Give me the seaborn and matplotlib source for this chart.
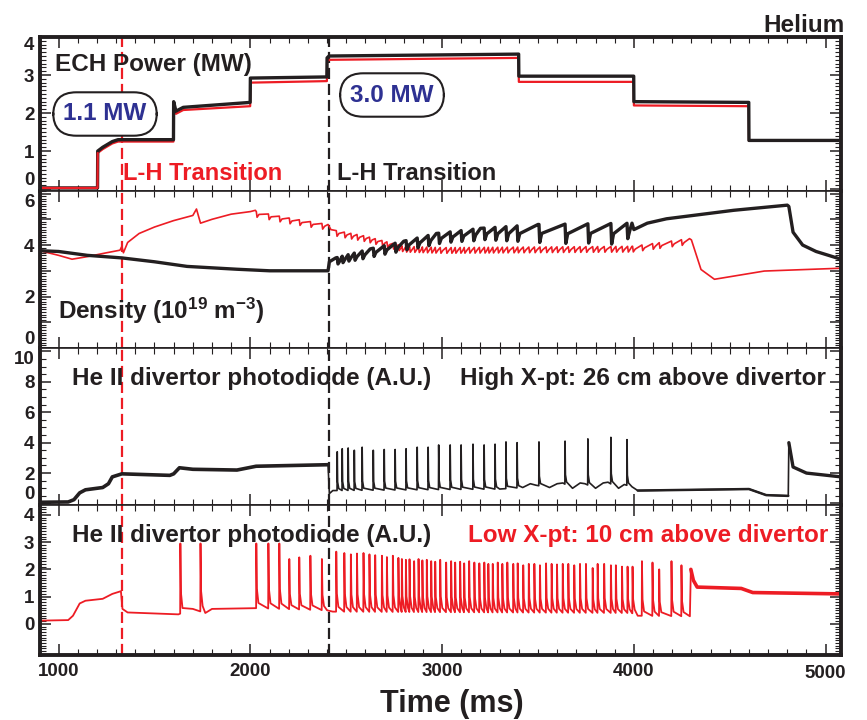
import numpy as np
import pandas as pd
import matplotlib
matplotlib.use("Agg")
import matplotlib.pyplot as plt
import seaborn as sns
from matplotlib.ticker import MultipleLocator, FuncFormatter

# ---------------- data ----------------
# ECH power (MW): step traces, time in ms
power_t = [903, 1203, 1204, 1230, 1280, 1310, 1599, 1600, 1612, 1650, 1999, 2000,
           2399, 2400, 2410, 3399, 3400, 3999, 4000, 4599, 4600, 5080]
power_high_v = [0.03, 0.03, 1.0, 1.1, 1.25, 1.3, 1.3, 2.3, 2.05, 2.15, 2.28, 2.92,
                2.95, 3.45, 3.5, 3.55, 2.97, 2.97, 2.3, 2.28, 1.28, 1.28]
power_low_v = [0.03, 0.03, 0.95, 1.05, 1.2, 1.25, 1.25, 2.25, 1.98, 2.08, 2.18, 2.8,
               2.84, 3.35, 3.4, 3.45, 2.82, 2.82, 2.2, 2.18, 1.27, 1.27]

# Density (1e19 m^-3)
dens_high_t = [903, 1000, 1150, 1330, 1500, 1670, 1930, 2100, 2405, 2412, 2445,
               4000, 4070, 4170, 4520, 4800, 4808, 4830, 4880, 4950, 5080]
dens_high_v = [3.78, 3.75, 3.6, 3.5, 3.35, 3.17, 3.06, 3.0, 3.0, 3.35, 3.45,
               4.6, 4.85, 5.02, 5.35, 5.55, 5.5, 4.5, 4.0, 3.75, 3.45]
dens_high_env_t = [2445, 2625, 2800, 2970, 3200, 3500, 3990]
dens_high_env_v = [3.5, 3.85, 4.15, 4.45, 4.65, 4.8, 4.85]

dens_low_t = [903, 1000, 1070, 1150, 1250, 1320, 1330, 1338, 1360, 1420, 1500,
              1600, 1700, 1719, 1740, 1800, 1900, 2000, 2026,
              4300, 4350, 4420, 4680, 5080]
dens_low_v = [3.78, 3.6, 3.45, 3.55, 3.7, 3.8, 3.95, 3.7, 4.1, 4.45, 4.7,
              4.95, 5.15, 5.4, 4.85, 5.0, 5.2, 5.3, 5.35,
              4.2, 3.05, 2.67, 2.99, 3.1]
dens_low_env_t = [2031, 2200, 2405, 2420, 2600, 2800, 3000, 3990, 4290]
dens_low_env_v = [5.3, 5.05, 4.8, 4.6, 4.35, 3.95, 3.9, 3.95, 4.25]

# He II photodiode, high X-point (black)
pd_high_t = [903, 1050, 1080, 1110, 1140, 1230, 1260, 1280, 1330, 1580, 1600, 1630,
             1700, 1930, 2030, 2405, 2412, 2430, 3300, 3420, 3460, 3490, 3560,
             3600, 3630, 3680, 3720, 3745, 3800, 3840, 3865, 3920, 3950, 3990,
             4020, 4600, 4690, 4805, 4808, 4830, 4900, 5080]
pd_high_v = [0.08, 0.1, 0.25, 0.7, 0.9, 1.05, 1.3, 1.75, 1.95, 1.85, 1.95, 2.35,
             2.25, 2.2, 2.45, 2.55, 0.65, 0.85, 0.95, 1.05, 1.3, 1.2, 1.05,
             1.3, 1.35, 1.0, 1.35, 1.3, 1.0, 1.35, 1.4, 1.0, 1.25, 1.1,
             0.85, 0.95, 0.55, 0.5, 4.0, 2.4, 2.0, 1.75]
elm_high_t = [2453, 2479, 2510, 2542, 2583, 2641, 2698, 2755, 2812, 2870, 2927, 2982,
              3042, 3099, 3161, 3219, 3276, 3333, 3391, 3505, 3641, 3760, 3880, 3964]
elm_high_peak = [3.4, 3.6, 3.65, 3.5, 3.7, 3.5, 3.55, 3.55, 3.6, 3.7, 3.7, 3.85,
                 3.85, 3.85, 3.9, 3.85, 3.9, 4.05, 4.0, 4.05, 4.1, 4.25, 4.35, 4.2]
elm_high_drop = [0.25, 0.25, 0.25, 0.28, 0.3, 0.32, 0.33, 0.35, 0.35, 0.38, 0.4, 0.4,
                 0.4, 0.42, 0.45, 0.45, 0.5, 0.55, 0.6, 0.7, 0.75, 0.75, 0.8, 0.6]

# He II photodiode, low X-point (red)
pd_low_t = [903, 1050, 1075, 1110, 1140, 1230, 1280, 1325, 1333, 1360, 1625,
            1700, 1765, 1800, 2020, 2400, 2430, 3300, 3990, 4020, 4292, 4297,
            4310, 4330, 4560, 4620, 5080]
pd_low_v = [0.12, 0.14, 0.3, 0.75, 0.85, 0.92, 1.1, 1.2, 0.55, 0.42, 0.35,
            0.55, 0.4, 0.55, 0.58, 0.5, 0.45, 0.42, 0.4, 0.3, 0.28, 2.0,
            1.6, 1.35, 1.3, 1.15, 1.1]
elm_low_t = [1635, 1740, 2031, 2094, 2151, 2203, 2255, 2313, 2373,
             2448, 2490, 2524, 2556, 2590, 2621, 2651, 2686, 2712, 2743,
             2772, 2790, 2811, 2830, 2854, 2877, 2897, 2920, 2943, 2964,
             2990, 3021, 3047, 3068, 3094, 3115, 3141, 3168, 3194, 3220,
             3241, 3264, 3290, 3314, 3340,
             3371, 3394, 3423, 3452, 3481, 3510, 3542, 3571, 3599, 3629,
             3658, 3689, 3719, 3750, 3785, 3811, 3845, 3880, 3906, 3938,
             3967, 3993, 4042, 4097, 4132, 4196, 4248]
elm_low_peak = [2.95, 2.95, 2.95, 2.95, 2.95, 2.38, 2.44, 2.5, 2.38,
                2.65, 2.6, 2.55, 2.58, 2.6, 2.55, 2.52, 2.5, 2.45, 2.5,
                2.42, 2.38, 2.35, 2.37, 2.3, 2.38, 2.33, 2.35, 2.3, 2.28,
                2.35, 2.25, 2.3, 2.25, 2.28, 2.22, 2.3, 2.25, 2.22, 2.25,
                2.2, 2.2, 2.25, 2.2, 2.25,
                2.2, 2.22, 2.15, 2.2, 2.2, 2.15, 2.22, 2.2, 2.18, 2.2,
                2.2, 2.15, 2.2, 2.2, 2.05, 2.2, 2.2, 2.15, 2.15, 2.1,
                2.1, 2.1, 2.3, 2.25, 2.0, 2.3, 2.15]
dens_low_drop = 0.22

lh_low_t = 1330    # L-H transition, low X-point
lh_high_t = 2410   # L-H transition, high X-point
x_ticks = [1000, 2000, 3000, 4000, 5000]

RED = "#ED1C24"
BLK = "#231F20"
NAVY = "#2E3192"


# ---------------- trace builders (from the read values) ----------------
def merge(base_t, base_v, extra_t, extra_v, windows):
    keep = [(t, v) for t, v in zip(base_t, base_v)
            if not any(a <= t <= b for a, b in windows)]
    pts = keep + list(zip(extra_t, extra_v))
    pts.sort(key=lambda p: p[0])
    return np.array([p[0] for p in pts]), np.array([p[1] for p in pts])


def spiky(base_t, base_v, elm_t, elm_pk, f1=0.3, f2=0.08, d1=3, d2=10):
    et, ev, win = [], [], []
    for te, pk in zip(elm_t, elm_pk):
        b = np.interp(te, base_t, base_v)
        et += [te - 1, te, te + d1, te + d2]
        ev += [b, pk, b + f1 * (pk - b), b + f2 * (pk - b)]
        win.append((te - 1.5, te + d2 + 0.5))
    return merge(base_t, base_v, et, ev, win)


def sawtooth(env_t, env_v, elm_t, drops):
    et, ev, win = [], [], []
    for te, d in zip(elm_t, drops):
        e = np.interp(te, env_t, env_v)
        et += [te, te + 4, te + 14]
        ev += [e, e - d, e - 0.5 * d]
        win.append((te - 1, te + 15))
    return merge(env_t, env_v, et, ev, win)


# ---------------- figure ----------------
sns.set_theme(style="ticks")
plt.rcParams["font.family"] = ["Liberation Sans", "DejaVu Sans"]
plt.rcParams["mathtext.fontset"] = "custom"
plt.rcParams["mathtext.rm"] = "Liberation Sans:bold"
plt.rcParams["mathtext.bf"] = "Liberation Sans:bold"
plt.rcParams["mathtext.it"] = "Liberation Sans:bold"

W, H = 867, 720
fig = plt.figure(figsize=(W / 100, H / 100), dpi=100)
fig.patch.set_facecolor("white")

left_px, right_px = 40, 841
panels_px = [(37, 191), (191, 348), (348, 505), (505, 655)]
axes = []
for top, bot in panels_px:
    ax = fig.add_axes([left_px / W, 1 - bot / H, (right_px - left_px) / W, (bot - top) / H])
    axes.append(ax)
ax1, ax2, ax3, ax4 = axes

# panel 1: power
sns.lineplot(x=power_t, y=power_low_v, ax=ax1, color=RED, lw=1.6,
             estimator=None, sort=False)
sns.lineplot(x=power_t, y=power_high_v, ax=ax1, color=BLK, lw=2.4,
             estimator=None, sort=False)
sns.lineplot(x=power_t[:3], y=power_low_v[:3], ax=ax1, color=RED, lw=1.6,
             estimator=None, sort=False)

# panel 2: density
hd_t, hd_v = sawtooth(dens_high_env_t, dens_high_env_v, elm_high_t, elm_high_drop)
hd_t, hd_v = merge(dens_high_t, dens_high_v, hd_t, hd_v, [(2444, 3985)])
ld_t, ld_v = sawtooth(dens_low_env_t, dens_low_env_v, elm_low_t[2:],
                      [dens_low_drop] * len(elm_low_t[2:]))
ld_t, ld_v = merge(dens_low_t, dens_low_v, ld_t, ld_v, [(2030, 4295)])
sns.lineplot(x=ld_t, y=ld_v, ax=ax2, color=RED, lw=1.2, estimator=None, sort=False)
sns.lineplot(x=hd_t, y=hd_v, ax=ax2, color=BLK, lw=2.4, estimator=None, sort=False)

# panel 3: high X-point photodiode
ph_t, ph_v = spiky(pd_high_t, pd_high_v, elm_high_t, elm_high_peak,
                   f1=0.22, f2=0.05, d1=2, d2=8)
sns.lineplot(x=ph_t, y=ph_v, ax=ax3, color=BLK, lw=1.2, estimator=None, sort=False)
pre = ph_t <= lh_high_t
sns.lineplot(x=ph_t[pre], y=ph_v[pre], ax=ax3, color=BLK, lw=2.6,
             estimator=None, sort=False)
mid = (ph_t >= 4000) & (ph_t <= 4805)
sns.lineplot(x=ph_t[mid], y=ph_v[mid], ax=ax3, color=BLK, lw=1.8,
             estimator=None, sort=False)
post = ph_t >= 4808
sns.lineplot(x=ph_t[post], y=ph_v[post], ax=ax3, color=BLK, lw=2.4,
             estimator=None, sort=False)

# panel 4: low X-point photodiode
pl_t, pl_v = spiky(pd_low_t, pd_low_v, elm_low_t, elm_low_peak,
                   f1=0.3, f2=0.08, d1=3, d2=11)
sns.lineplot(x=pl_t, y=pl_v, ax=ax4, color=RED, lw=1.3, estimator=None, sort=False)
post = pl_t >= 4297
sns.lineplot(x=pl_t[post], y=pl_v[post], ax=ax4, color=RED, lw=2.6,
             estimator=None, sort=False)

# ---------------- axes styling ----------------
ylims = [(-0.05, 4.0), (0.0, 6.1), (-0.1, 10.23), (-1.14, 4.36)]
ymaj = [1, 1, 2, 1]
ymin = [0.1, 0.1, 0.5, 0.1]
for i, ax in enumerate(axes):
    ax.set_xlim(903, 5080)
    ax.set_ylim(*ylims[i])
    ax.set_xlabel("")
    ax.set_ylabel("")
    ax.xaxis.set_major_locator(MultipleLocator(1000))
    ax.xaxis.set_minor_locator(MultipleLocator(100))
    ax.yaxis.set_minor_locator(MultipleLocator(ymin[i]))
    ax.tick_params(which="both", direction="in", top=True, bottom=True,
                   left=True, right=True, colors=BLK)
    ax.tick_params(which="major", length=8, width=1.1)
    ax.tick_params(which="minor", length=4, width=0.8)
    ax.tick_params(axis="y", labelsize=13.5, pad=4)
    ax.tick_params(axis="x", labelsize=13.5, pad=6)
    for s in ["left", "right"]:
        ax.spines[s].set_linewidth(2.8)
        ax.spines[s].set_color(BLK)
    for s in ["top", "bottom"]:
        ax.spines[s].set_linewidth(1.2)
        ax.spines[s].set_color(BLK)
    if i < 3:
        ax.tick_params(axis="x", labelbottom=False)
    ax.axvline(lh_low_t, color=RED, lw=1.6, ls=(0, (5, 2.2)), zorder=1)
    ax.axvline(lh_high_t, color=BLK, lw=1.6, ls=(0, (5, 2.2)), zorder=1)
    ax.set_facecolor("white")

ax1.spines["top"].set_linewidth(2.8)
ax4.spines["bottom"].set_linewidth(2.8)

ax1.set_yticks([0, 1, 2, 3, 4])
ax2.set_yticks([0, 1, 2, 3, 4, 5, 6])
ax2.set_yticklabels(["0", "", "2", "", "4", "", "6"])
ax3.set_yticks([0, 2, 4, 6, 8, 10])
ax4.set_yticks([0, 1, 2, 3, 4])
ax4.set_xticks(x_ticks)
ax4.set_xticklabels(["1000", "2000", "3000", "4000", ""])
for ax in axes:
    for lab in ax.get_yticklabels() + ax.get_xticklabels():
        lab.set_fontweight("bold")

# keep edge labels inside their own panel, as in the reference
ax1.get_yticklabels()[-1].set_va("top")
ax1.get_yticklabels()[0].set_va("bottom")
ax2.get_yticklabels()[-1].set_va("top")
ax2.get_yticklabels()[0].set_va("bottom")
ax3.get_yticklabels()[-1].set_va("top")
ax3.get_yticklabels()[0].set_va("bottom")


# ---------------- text ----------------
def ftext(px, py, s, **kw):
    fig.text(px / W, 1 - py / H, s, **kw)


ftext(846, 678, "5000", ha="right", va="baseline", fontsize=13.5,
      fontweight="bold", color=BLK)
ftext(452, 712, "Time (ms)", ha="center", va="baseline", fontsize=22,
      fontweight="bold", color=BLK)
ftext(845, 32, "Helium", ha="right", va="baseline", fontsize=17.5,
      fontweight="bold", color=BLK)
ftext(55, 71, "ECH Power (MW)", ha="left", va="baseline", fontsize=17.5,
      fontweight="bold", color=BLK)
ftext(105, 114, "1.1 MW", ha="center", va="center", fontsize=17.5,
      fontweight="bold", color=NAVY,
      bbox=dict(boxstyle="round,pad=0.42,rounding_size=0.95", fc="white",
                ec=BLK, lw=1.5))
ftext(392, 95, "3.0 MW", ha="center", va="center", fontsize=17.5,
      fontweight="bold", color=NAVY,
      bbox=dict(boxstyle="round,pad=0.42,rounding_size=0.95", fc="white",
                ec=BLK, lw=1.5))
ftext(123, 180, "L-H Transition", ha="left", va="baseline", fontsize=17,
      fontweight="bold", color=RED)
ftext(337, 180, "L-H Transition", ha="left", va="baseline", fontsize=17,
      fontweight="bold", color=BLK)
ftext(58, 319, r"Density (10$^{\mathbf{19}}$ m$^{\mathbf{-3}}$)", ha="left",
      va="baseline", fontsize=17.5, fontweight="bold", color=BLK)
ftext(72, 385, "He II divertor photodiode (A.U.)", ha="left", va="baseline",
      fontsize=17.5, fontweight="bold", color=BLK)
ftext(826, 385, "High X-pt: 26 cm above divertor", ha="right", va="baseline",
      fontsize=17.5, fontweight="bold", color=BLK)
ftext(72, 542, "He II divertor photodiode (A.U.)", ha="left", va="baseline",
      fontsize=17.5, fontweight="bold", color=BLK)
ftext(828, 542, "Low X-pt: 10 cm above divertor", ha="right", va="baseline",
      fontsize=17.5, fontweight="bold", color=RED)

fig.savefig("out.png", dpi=100, facecolor="white")
